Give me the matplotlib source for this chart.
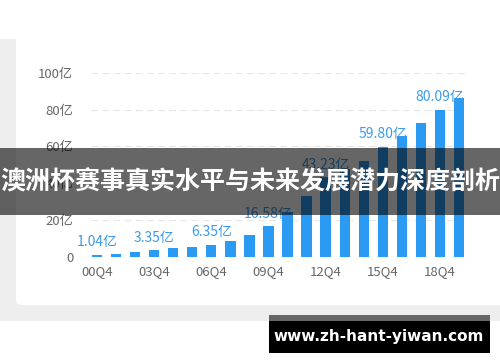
import matplotlib
matplotlib.use('Agg')
import matplotlib.pyplot as plt
from matplotlib.patches import Rectangle, FancyBboxPatch
import numpy as np

plt.rcParams['font.family'] = ['Noto Sans CJK SC', 'DejaVu Sans']

quarters = ['00Q4', '01Q4', '02Q4', '03Q4', '04Q4', '05Q4', '06Q4', '07Q4', '08Q4', '09Q4',
            '10Q4', '11Q4', '12Q4', '13Q4', '14Q4', '15Q4', '16Q4', '17Q4', '18Q4', '19Q4']
values = [1.04, 1.5, 2.4, 3.35, 4.5, 5.0, 6.35, 8.4, 11.7, 16.58,
          24.0, 33.0, 43.23, 47.5, 52.0, 59.80, 65.7, 72.6, 80.09, 86.6]
labelled = [0, 3, 6, 9, 12, 15, 18]
yticks = [0, 20, 40, 60, 80, 100]
ytick_labels = ['0', '20亿', '40亿', '60亿', '80亿', '100亿']
title = '澳洲杯赛事真实水平与未来发展潜力深度剖析'
site = 'www.zh-hant-yiwan.com'

W, H = 500, 362
fig = plt.figure(figsize=(W / 100, H / 100), dpi=100)
fig.patch.set_facecolor('white')

# page background: grey band with a white card
bg = fig.add_axes([0, 0, 1, 1])
bg.set_xlim(0, W)
bg.set_ylim(H, 0)
bg.axis('off')
bg.add_patch(Rectangle((0, 39), W, 282, facecolor='#eeeeee', edgecolor='none'))
bg.add_patch(FancyBboxPatch((16, 20), 520, 285, boxstyle='round,pad=0,rounding_size=6',
                            facecolor='white', edgecolor='none'))

ax = fig.add_axes([91.3 / W, 1 - 256.5 / H, (464.7 - 91.3) / W, (256.5 - 73) / H])
ax.set_facecolor('none')
x = np.arange(len(quarters))
bars = ax.bar(x, values, width=0.54, color='#2b9af3', zorder=3)
for i in labelled:
    ax.annotate(f'{values[i]:.2f}亿', (x[i], values[i]), xytext=(0, 4), textcoords='offset points',
                ha='center', va='bottom', color='#3d9be9', fontsize=10, zorder=4)

ax.set_xlim(-0.3, len(quarters) - 0.7)
ax.set_ylim(0, 100)
ax.set_yticks(yticks)
ax.set_yticklabels(ytick_labels)
ax.set_xticks(x[labelled])
ax.set_xticklabels([quarters[i] for i in labelled])
ax.tick_params(axis='both', length=0, colors='#666666', labelsize=9.5)
ax.tick_params(axis='y', pad=13)
ax.tick_params(axis='x', pad=6)
ax.grid(axis='y', color='#e6e6e6', linestyle=(0, (6, 4)), linewidth=0.8, zorder=0)
for s in ax.spines.values():
    s.set_visible(False)

# title banner over the chart
bg2 = fig.add_axes([0, 0, 1, 1], zorder=10)
bg2.set_xlim(0, W)
bg2.set_ylim(H, 0)
bg2.axis('off')
bg2.add_patch(Rectangle((0, 148), W, 67, facecolor='black', alpha=0.6, edgecolor='none'))
bg2.text(W / 2, 182, title, color='white', fontsize=18, fontweight='bold',
         ha='center', va='center')

# site watermark
bg2.add_patch(Rectangle((269, 315), 221, 6, facecolor='#666666', edgecolor='none'))
bg2.add_patch(Rectangle((269, 321), 221, 32, facecolor='black', edgecolor='none'))
bg2.text(379, 337, site, color='white', fontsize=11, fontweight='bold',
         family='DejaVu Sans', ha='center', va='center')

fig.savefig('out.png', dpi=100)
